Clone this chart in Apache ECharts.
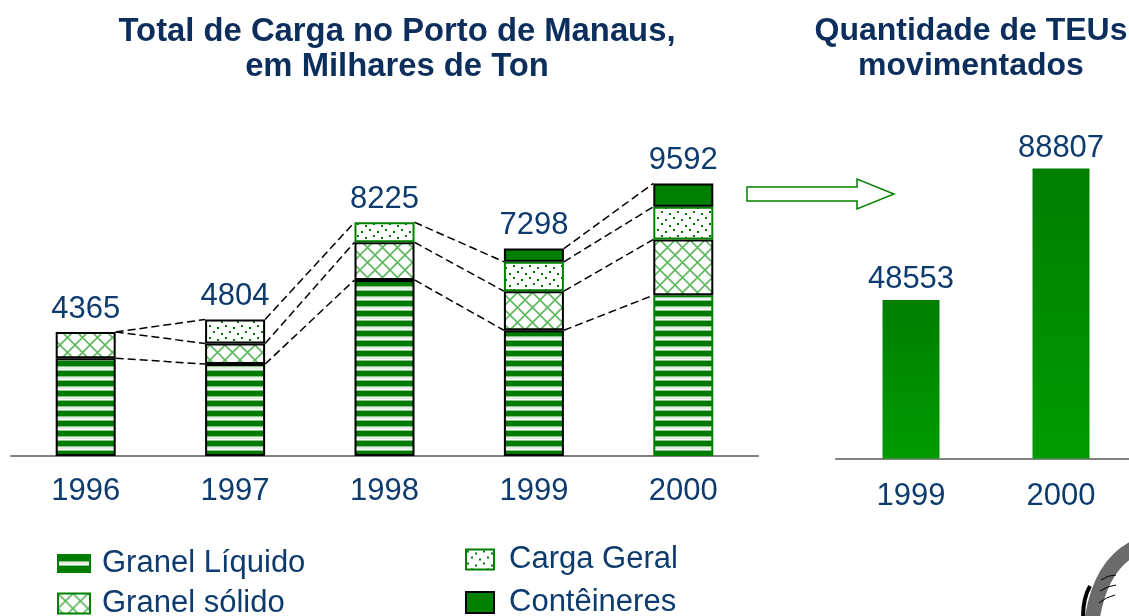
<!DOCTYPE html>
<html>
<head>
<meta charset="utf-8">
<script src="https://cdn.jsdelivr.net/npm/echarts@6/dist/echarts.min.js"></script>
<style>
  html, body { margin: 0; padding: 0; background: #ffffff; }
  #chart { width: 1129px; height: 616px; }
</style>
</head>
<body>
<div id="chart"></div>
<script>
// Cargo handled at the Port of Manaus (thousand tonnes), by type
const years = ['1996', '1997', '1998', '1999', '2000'];
const granelLiquido = [3440, 3235, 6195, 4425, 5655];
const granelSolido  = [925, 725, 1326, 1375, 1963];
const cargaGeral    = [0, 844, 704, 1035, 1152];
const conteineres   = [0, 0, 0, 463, 822];
const totals        = [4365, 4804, 8225, 7298, 9592];

// Containers moved (TEUs)
const teuYears = ['1999', '2000'];
const teus = [48553, 88807];

const FONT = 'Liberation Sans, Arial, Helvetica, sans-serif';
const TEXT = '#0d3b6e';
const TITLE = '#0b2e5c';
const GREEN = '#008000';
const BLACK = '#000000';

// Fill tiles for the stacked segments
function makeTile(w, h, draw) {
  const c = document.createElement('canvas');
  c.width = w; c.height = h;
  const ctx = c.getContext('2d');
  ctx.fillStyle = '#ffffff';
  ctx.fillRect(0, 0, w, h);
  draw(ctx);
  return { image: c, repeat: 'repeat' };
}
const stripeFill = makeTile(10, 10, ctx => {
  ctx.fillStyle = 'rgba(0,122,0,0.45)'; ctx.fillRect(0, 0, 10, 1);
  ctx.fillStyle = '#007a00';            ctx.fillRect(0, 1, 10, 5);
  ctx.fillStyle = 'rgba(0,122,0,0.45)'; ctx.fillRect(0, 6, 10, 1);
  ctx.fillStyle = 'rgba(0,122,0,0.12)'; ctx.fillRect(0, 7, 10, 2);
});
const hatchFill = makeTile(15, 15, ctx => {
  ctx.strokeStyle = 'rgba(40,160,40,0.75)';
  ctx.lineWidth = 1.6;
  ctx.beginPath();
  ctx.moveTo(-1, -1); ctx.lineTo(16, 16);
  ctx.moveTo(16, -1); ctx.lineTo(-1, 16);
  ctx.stroke();
});
const dotFill = makeTile(16, 12, ctx => {
  ctx.fillStyle = '#007a00';
  [[1, 1], [9, 3], [5, 7], [13, 9]].forEach(([x, y]) => ctx.fillRect(x, y, 2, 2));
});

// Outline colour of each segment, per year
function segments(values, edges) {
  return values.map((v, i) => v > 0 ? { value: v, itemStyle: { borderColor: edges[i] } } : '-');
}
const liquidoEdges = [BLACK, BLACK, BLACK, BLACK, GREEN];
const solidoEdges  = [BLACK, BLACK, BLACK, BLACK, BLACK];
const cargaEdges   = [BLACK, BLACK, GREEN, GREEN, GREEN];
const contEdges    = [BLACK, BLACK, BLACK, BLACK, BLACK];

const BAR_W = 60;
const layers = [granelLiquido, granelSolido, cargaGeral, conteineres];

// Dashed connectors between the tops of matching segments in neighbouring bars
function connectorItem(params, api) {
  const i = api.value(0);
  const lines = [];
  let a = 0, b = 0;
  layers.forEach((arr, k) => {
    a += arr[i]; b += arr[i + 1];
    if (k === 3 && !(arr[i] > 0 && arr[i + 1] > 0)) return;
    const p1 = api.coord([i, a]);
    const p2 = api.coord([i + 1, b]);
    lines.push({
      type: 'line',
      shape: { x1: p1[0] + BAR_W / 2, y1: p1[1], x2: p2[0] - BAR_W / 2, y2: p2[1] },
      style: { stroke: '#000', lineWidth: 1.5, lineDash: [8, 4] }
    });
  });
  return { type: 'group', children: lines };
}

const labelStyle = { color: TEXT, fontSize: 31, fontFamily: FONT };
const titleStyle = { color: TITLE, fontWeight: 'bold', fontFamily: FONT, lineHeight: 35 };

// One legend block per entry, so each sits exactly where it belongs
function legendEntry(name, left, top, w, h, gap, border) {
  return {
    left, top, padding: 0, icon: 'rect', selectedMode: false,
    itemWidth: w, itemHeight: h,
    textStyle: Object.assign({ padding: [0, 0, 0, gap] }, labelStyle),
    data: [{ name, itemStyle: { borderColor: border } }]
  };
}

const option = {
  animation: false,
  backgroundColor: '#ffffff',
  title: [
    {
      text: 'Total de Carga no Porto de Manaus,\nem Milhares de Ton',
      left: 392, top: 9, textAlign: 'center',
      textStyle: Object.assign({ fontSize: 32.8 }, titleStyle)
    },
    {
      text: 'Quantidade de TEUs\nmovimentados',
      left: 966, top: 9, textAlign: 'center',
      textStyle: Object.assign({ fontSize: 32 }, titleStyle)
    }
  ],
  legend: [
    legendEntry('Granel Líquido', 57, 548, 32, 17, 7, GREEN),
    legendEntry('Granel sólido', 57, 588, 32, 20, 7, GREEN),
    legendEntry('Carga Geral', 465, 544, 28, 20, 10, GREEN),
    legendEntry('Contêineres', 465, 587, 28, 21, 10, BLACK)
  ],
  grid: [
    { left: 11, width: 747, top: 115, height: 341, outerBoundsMode: 'none' },
    { left: 836, width: 300, top: 132, height: 326.5, outerBoundsMode: 'none' }
  ],
  xAxis: [
    {
      type: 'category', gridIndex: 0, data: years,
      axisLine: { lineStyle: { color: '#808080', width: 2 } },
      axisTick: { length: 5, lineStyle: { color: '#222', width: 1 } },
      axisLabel: Object.assign({ margin: 20 }, labelStyle)
    },
    {
      type: 'category', gridIndex: 1, data: teuYears,
      axisLine: { lineStyle: { color: '#808080', width: 2 } },
      axisTick: { length: 5, lineStyle: { color: '#222', width: 1 } },
      axisLabel: Object.assign({ margin: 22 }, labelStyle)
    }
  ],
  yAxis: [
    { type: 'value', gridIndex: 0, min: 0, max: 12000, show: false },
    { type: 'value', gridIndex: 1, min: 0, max: 100000, show: false }
  ],
  series: [
    {
      name: 'Granel Líquido', type: 'bar', stack: 'carga', barWidth: BAR_W,
      itemStyle: { color: stripeFill, borderColor: BLACK, borderWidth: 2 },
      data: segments(granelLiquido, liquidoEdges)
    },
    {
      name: 'Granel sólido', type: 'bar', stack: 'carga', barWidth: BAR_W,
      itemStyle: { color: hatchFill, borderColor: BLACK, borderWidth: 2 },
      data: segments(granelSolido, solidoEdges)
    },
    {
      name: 'Carga Geral', type: 'bar', stack: 'carga', barWidth: BAR_W,
      itemStyle: { color: dotFill, borderColor: GREEN, borderWidth: 2 },
      data: segments(cargaGeral, cargaEdges)
    },
    {
      name: 'Contêineres', type: 'bar', stack: 'carga', barWidth: BAR_W,
      itemStyle: { color: GREEN, borderColor: BLACK, borderWidth: 2 },
      data: segments(conteineres, contEdges)
    },
    {
      name: 'Total', type: 'scatter', symbolSize: 1, silent: true,
      itemStyle: { color: 'rgba(0,0,0,0)', opacity: 1 },
      label: Object.assign({ show: true, position: 'top', distance: 7, formatter: p => String(p.value) }, labelStyle),
      data: totals
    },
    {
      name: 'Ligações', type: 'custom', silent: true,
      renderItem: connectorItem,
      data: years.slice(0, -1).map((_, i) => [i])
    },
    {
      name: 'TEUs', type: 'bar', xAxisIndex: 1, yAxisIndex: 1, barWidth: 57,
      itemStyle: {
        color: new echarts.graphic.LinearGradient(0, 0, 0, 1, [
          { offset: 0, color: '#007e00' },
          { offset: 1, color: '#009b00' }
        ])
      },
      label: Object.assign({ show: true, position: 'top', distance: 5 }, labelStyle),
      data: teus
    }
  ],
  graphic: [
    {
      type: 'polygon', silent: true,
      shape: { points: [[747, 187], [857, 187], [857, 179], [894, 194], [857, 209], [857, 201], [747, 201]] },
      style: { fill: '#ffffff', stroke: GREEN, lineWidth: 1.5 }
    },
    {
      type: 'group', silent: true,
      children: [
        { type: 'bezierCurve', shape: { x1: 1134, y1: 548, cpx1: 1100, cpy1: 566, x2: 1092, y2: 620 }, style: { fill: null, stroke: '#6b6b6b', lineWidth: 15 } },
        { type: 'bezierCurve', shape: { x1: 1090, y1: 586, cpx1: 1083, cpy1: 598, x2: 1083, y2: 618 }, style: { fill: null, stroke: '#000', lineWidth: 4 } },
        { type: 'bezierCurve', shape: { x1: 1101, y1: 580, cpx1: 1108, cpy1: 575, x2: 1116, y2: 575 }, style: { fill: null, stroke: '#000', lineWidth: 1 } },
        { type: 'bezierCurve', shape: { x1: 1100, y1: 591, cpx1: 1107, cpy1: 586, x2: 1116, y2: 585 }, style: { fill: null, stroke: '#000', lineWidth: 1 } },
        { type: 'bezierCurve', shape: { x1: 1099, y1: 603, cpx1: 1106, cpy1: 597, x2: 1115, y2: 595 }, style: { fill: null, stroke: '#000', lineWidth: 1 } }
      ]
    }
  ]
};

const chart = echarts.init(document.getElementById('chart'));
chart.setOption(option);
</script>
</body>
</html>
